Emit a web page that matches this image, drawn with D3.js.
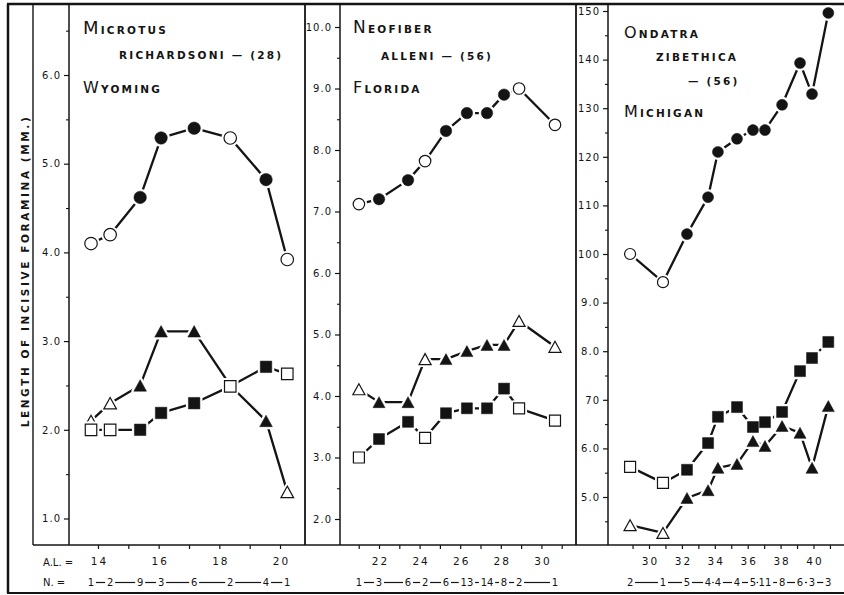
<!DOCTYPE html>
<html><head><meta charset="utf-8">
<script src="https://cdn.jsdelivr.net/npm/d3@7"></script>
<style>body{margin:0;background:#fff}svg{display:block}</style>
</head><body><svg id="c" width="844" height="595"></svg>
<script>
// ---------- DATA ----------
// Microtus richardsoni (Wyoming)
const alMicrotus = [13.77, 14.4, 15.39, 16.08, 17.17, 18.36, 19.54, 20.24];
const nMicrotus = [1, 2, 9, 3, 6, 2, 4, 1];
const circleMicrotus = [4.1, 4.2, 4.62, 5.29, 5.4, 5.29, 4.82, 3.92];
const triangleMicrotus = [2.1, 2.3, 2.5, 3.11, 3.11, 2.5, 2.1, 1.3];
const triangleMicrotusHidden = [5]; // coincides with the open square
const squareMicrotus = [2.0, 2.0, 2.0, 2.19, 2.3, 2.49, 2.71, 2.63];
const yTicksMicrotus = [1, 2, 3, 4, 5, 6];
const yLabelsMicrotus = ["1.0", "2.0", "3.0", "4.0", "5.0", "6.0"];
const yMinorMicrotus = [1.5, 2.5, 3.5, 4.5, 5.5, 6.5];
const xTicksMicrotus = [14, 16, 18, 20];
const xMinorMicrotus = [14, 15, 16, 17, 18, 19, 20];

// Neofiber alleni (Florida)
const alNeofiber = [21.01, 22.0, 23.43, 24.27, 25.3, 26.33, 27.32, 28.16, 28.9, 30.67];
const nNeofiber = [1, 3, 6, 2, 6, 13, 14, 8, 2, 1];
const circleNeofiber = [7.12, 7.2, 7.51, 7.82, 8.31, 8.6, 8.6, 8.9, 9.0, 8.41];
const triangleNeofiber = [4.11, 3.9, 3.9, 4.6, 4.6, 4.73, 4.83, 4.83, 5.22, 4.8];
const squareNeofiber = [3.0, 3.3, 3.58, 3.32, 3.72, 3.8, 3.8, 4.12, 3.8, 3.6];
const yTicksNeofiber = [2, 3, 4, 5, 6, 7, 8, 9, 10];
const yLabelsNeofiber = ["2.0", "3.0", "4.0", "5.0", "6.0", "7.0", "8.0", "9.0", "10.0"];
const yMinorNeofiber = [2.5, 3.5, 4.5, 5.5, 6.5, 7.5, 8.5, 9.5];
const xTicksNeofiber = [22, 24, 26, 28, 30];
const xMinorNeofiber = [21, 22, 23, 24, 25, 26, 27, 28, 29, 30, 31];

// Ondatra zibethica (Michigan)
const alOndatra = [28.85, 30.85, 32.31, 33.59, 34.19, 35.35, 36.32, 37.05, 38.09, 39.18, 39.91, 40.9];
const nOndatra = [2, 1, 5, 4, 4, 4, 5, 11, 8, 6, 3, 3];
const circleOndatra = [100, 94.2, 104.1, 111.7, 121, 123.7, 125.5, 125.5, 130.7, 139.3, 132.9, 149.6];
const triangleOndatra = [44.2, 42.6, 49.8, 51.4, 56.0, 56.8, 61.5, 60.5, 64.6, 63.2, 56.0, 68.7];
const squareOndatra = [56.2, 52.9, 55.6, 61.1, 66.5, 68.5, 64.4, 65.4, 67.5, 75.9, 78.6, 81.9];
const yTicksOndatra = [50, 60, 70, 80, 90, 100, 110, 120, 130, 140, 150];
const yLabelsOndatra = ["5.0", "6.0", "70", "8.0", "9.0", "100", "110", "120", "130", "140", "150"];
const yMinorOndatra = [45, 55, 65, 75, 85, 95, 105, 115, 125, 135, 145];
const xTicksOndatra = [30, 32, 34, 36, 38, 40];
const xMinorOndatra = [29, 30, 31, 32, 33, 34, 35, 36, 37, 38, 39, 40, 41];

const yAxisTitle = "LENGTH OF INCISIVE FORAMINA (MM.)";
const alLabel = "A.L. =";
const nLabel = "N. =";

// ---------- DRAWING ----------
const svg = d3.select("#c");
const FONT = "'DejaVu Sans', 'Liberation Sans', sans-serif";
const INK = "#141414";
const TOP = 4, AXISY = 545, BOTTOM = 593;

svg.append("rect").attr("width", 844).attr("height", 595).attr("fill", "#fff");

// frame
const frame = svg.append("g").attr("stroke", INK).attr("fill", "none");
frame.append("line").attr("x1", 7).attr("x2", 844).attr("y1", TOP).attr("y2", TOP).attr("stroke-width", 2.5);
frame.append("line").attr("x1", 8).attr("x2", 8).attr("y1", TOP).attr("y2", BOTTOM).attr("stroke-width", 2.5);
frame.append("line").attr("x1", 7).attr("x2", 844).attr("y1", BOTTOM).attr("y2", BOTTOM).attr("stroke-width", 2);
frame.append("line").attr("x1", 33).attr("x2", 33).attr("y1", TOP).attr("y2", AXISY).attr("stroke-width", 1.4);
frame.append("line").attr("x1", 33).attr("x2", 844).attr("y1", AXISY).attr("y2", AXISY).attr("stroke-width", 1.6);

// y axis title
svg.append("text")
  .attr("transform", "translate(28.5,271) rotate(-90)")
  .attr("text-anchor", "middle")
  .attr("font-family", FONT).attr("font-size", 10.5).attr("font-weight", "bold")
  .attr("letter-spacing", 2.6).attr("fill", INK)
  .text(yAxisTitle);

svg.append("text").attr("x", 43).attr("y", 566).attr("font-family", FONT).attr("font-size", 10)
  .attr("fill", INK).text(alLabel);
svg.append("text").attr("x", 43).attr("y", 586).attr("font-family", FONT).attr("font-size", 10)
  .attr("fill", INK).text(nLabel);

function markerPath(type, s) {
  if (type === "circle") {
    return d3.symbol(d3.symbolCircle, Math.PI * s * s / 4)();
  } else if (type === "square") {
    return d3.symbol(d3.symbolSquare, s * s)();
  } else {
    const w = s * 1.1, h = s;
    return `M0,${-h / 2}L${w / 2},${h / 2}L${-w / 2},${h / 2}Z`;
  }
}

function titleLine(g, x, y, words, big, small, ls) {
  const t = g.append("text").attr("x", x).attr("y", y)
    .attr("font-family", FONT).attr("fill", INK).attr("letter-spacing", ls)
    .attr("font-weight", "bold");
  words.forEach((w, wi) => {
    if (wi > 0) t.append("tspan").attr("font-size", small).text(" ");
    if (big) {
      t.append("tspan").attr("font-size", big).attr("font-weight", "normal").text(w[0]);
      t.append("tspan").attr("font-size", small).text(w.slice(1).toUpperCase());
    } else {
      t.append("tspan").attr("font-size", small).text(w.toUpperCase());
    }
  });
  return t;
}

function drawPanel(cfg) {
  const g = svg.append("g");
  const x = d3.scaleLinear().domain(cfg.xDomain).range(cfg.xRange);
  const y = d3.scaleLinear().domain(cfg.yDomain).range(cfg.yRange);

  // divider and y axis line
  if (cfg.divider) g.append("line").attr("x1", cfg.divider).attr("x2", cfg.divider)
    .attr("y1", TOP).attr("y2", AXISY).attr("stroke", INK).attr("stroke-width", 1.8);
  g.append("line").attr("x1", cfg.axisX).attr("x2", cfg.axisX)
    .attr("y1", TOP).attr("y2", AXISY).attr("stroke", INK).attr("stroke-width", 1.5);

  // y axis ticks
  const ya = g.append("g").attr("transform", `translate(${cfg.axisX},0)`)
    .call(d3.axisLeft(y).tickValues(cfg.yTicks).tickSize(5).tickPadding(3)
      .tickFormat((d, i) => cfg.yLabels[i]));
  ya.select(".domain").remove();
  ya.selectAll("line").attr("stroke", INK).attr("stroke-width", 1.2);
  ya.selectAll("text").attr("font-family", FONT).attr("font-size", 10)
    .attr("letter-spacing", 1).attr("fill", INK);
  const ym = g.append("g").attr("transform", `translate(${cfg.axisX},0)`)
    .call(d3.axisLeft(y).tickValues(cfg.yMinor).tickSize(3).tickFormat(""));
  ym.select(".domain").remove();
  ym.selectAll("line").attr("stroke", INK).attr("stroke-width", 1.1);

  // x axis ticks
  const xm = g.append("g").attr("transform", `translate(0,${AXISY})`)
    .call(d3.axisBottom(x).tickValues(cfg.xMinor).tickSize(4).tickFormat(""));
  xm.select(".domain").remove();
  xm.selectAll("line").attr("stroke", INK).attr("stroke-width", 1.2);
  const xl = g.append("g").attr("transform", `translate(0,${AXISY})`)
    .call(d3.axisBottom(x).tickValues(cfg.xTicks).tickSize(0).tickPadding(13)
      .tickFormat(d3.format("d")));
  xl.select(".domain").remove();
  xl.selectAll("text").attr("font-family", FONT).attr("font-size", 10.5)
    .attr("letter-spacing", 2).attr("dx", 1).attr("fill", INK);

  // N row
  const ng = g.append("g");
  const nTexts = cfg.n.map((v, i) => ng.append("text")
    .attr("x", x(cfg.al[i])).attr("y", 586).attr("text-anchor", "middle")
    .attr("font-family", FONT).attr("font-size", 10).attr("fill", INK).text(v));
  const widths = nTexts.map(t => t.node().getComputedTextLength());
  for (let i = 0; i < cfg.n.length - 1; i++) {
    const a = x(cfg.al[i]) + widths[i] / 2 + 1.8;
    const b = x(cfg.al[i + 1]) - widths[i + 1] / 2 - 1.8;
    if (b - a > 2) {
      ng.append("line").attr("x1", a).attr("x2", b).attr("y1", 582.5).attr("y2", 582.5)
        .attr("stroke", INK).attr("stroke-width", 1.2);
    } else {
      ng.append("circle").attr("cx", (a + b) / 2).attr("cy", 582.5).attr("r", 0.8).attr("fill", INK);
    }
  }

  // series
  const series = [
    { type: "triangle", v: cfg.tri, hidden: cfg.triHidden || [] },
    { type: "square", v: cfg.sq, hidden: [] },
    { type: "circle", v: cfg.circ, hidden: [] }
  ];
  const line = d3.line().x(d => x(d[0])).y(d => y(d[1]));
  series.forEach(s => {
    g.append("path").datum(cfg.al.map((a, i) => [a, s.v[i]]))
      .attr("d", line).attr("fill", "none").attr("stroke", INK)
      .attr("stroke-width", 2.3).attr("stroke-linejoin", "round");
  });
  series.forEach(s => {
    const size = s.type === "circle" ? cfg.circleSize : cfg.markSize;
    const pts = cfg.al.map((a, i) => ({ a, v: s.v[i], open: cfg.n[i] <= 2, i }))
      .filter(p => !s.hidden.includes(p.i));
    const mg = g.append("g");
    mg.selectAll("path.halo").data(pts).join("path").attr("class", "halo")
      .attr("transform", p => `translate(${x(p.a)},${y(p.v)})`)
      .attr("d", markerPath(s.type, size)).attr("fill", "#fff").attr("stroke", "#fff")
      .attr("stroke-width", 5).attr("stroke-linejoin", "round");
    mg.selectAll("path.mk").data(pts).join("path").attr("class", "mk")
      .attr("transform", p => `translate(${x(p.a)},${y(p.v)})`)
      .attr("d", markerPath(s.type, size))
      .attr("fill", p => p.open ? "#fff" : INK).attr("stroke", INK)
      .attr("stroke-width", p => p.open ? 1.2 : 0.5);
  });

  // titles
  const tg = g.append("g");
  cfg.titles.forEach(t => titleLine(tg, t.x, t.y, t.words, t.big, t.small, t.ls));
}

drawPanel({
  al: alMicrotus, n: nMicrotus, circ: circleMicrotus, tri: triangleMicrotus, sq: squareMicrotus,
  triHidden: triangleMicrotusHidden,
  yTicks: yTicksMicrotus, yLabels: yLabelsMicrotus, yMinor: yMinorMicrotus,
  xTicks: xTicksMicrotus, xMinor: xMinorMicrotus,
  xDomain: [14, 20], xRange: [98, 280], yDomain: [6, 1], yRange: [75, 518.5],
  axisX: 69, divider: null, circleSize: 12.5, markSize: 11.5,
  titles: [
    { x: 83, y: 34, words: ["Microtus"], big: 18, small: 10.5, ls: 2.2 },
    { x: 119, y: 59, words: ["richardsoni", "—", "(28)"], big: 0, small: 10.5, ls: 2.2 },
    { x: 83, y: 93, words: ["Wyoming"], big: 16, small: 10.5, ls: 2.2 }
  ]
});
drawPanel({
  al: alNeofiber, n: nNeofiber, circ: circleNeofiber, tri: triangleNeofiber, sq: squareNeofiber,
  yTicks: yTicksNeofiber, yLabels: yLabelsNeofiber, yMinor: yMinorNeofiber,
  xTicks: xTicksNeofiber, xMinor: xMinorNeofiber,
  xDomain: [22, 30], xRange: [379, 541.4], yDomain: [10, 2], yRange: [27, 519],
  axisX: 340, divider: 305, circleSize: 11.5, markSize: 11,
  titles: [
    { x: 353, y: 33, words: ["Neofiber"], big: 17, small: 10.5, ls: 2.2 },
    { x: 381, y: 60, words: ["alleni", "—", "(56)"], big: 0, small: 10.5, ls: 2.2 },
    { x: 353, y: 93, words: ["Florida"], big: 16, small: 10.5, ls: 2.2 }
  ]
});
drawPanel({
  al: alOndatra, n: nOndatra, circ: circleOndatra, tri: triangleOndatra, sq: squareOndatra,
  yTicks: yTicksOndatra, yLabels: yLabelsOndatra, yMinor: yMinorOndatra,
  xTicks: xTicksOndatra, xMinor: xMinorOndatra,
  xDomain: [30, 40], xRange: [649, 813.5], yDomain: [150, 50], yRange: [11, 497],
  axisX: 608, divider: 576, circleSize: 11, markSize: 11,
  titles: [
    { x: 624, y: 38, words: ["Ondatra"], big: 16, small: 10.5, ls: 2.2 },
    { x: 656, y: 61, words: ["zibethica"], big: 0, small: 10.5, ls: 2.2 },
    { x: 688, y: 85, words: ["—", "(56)"], big: 0, small: 10.5, ls: 2.2 },
    { x: 624, y: 117, words: ["Michigan"], big: 16, small: 10.5, ls: 2.2 }
  ]
});
</script></body></html>
